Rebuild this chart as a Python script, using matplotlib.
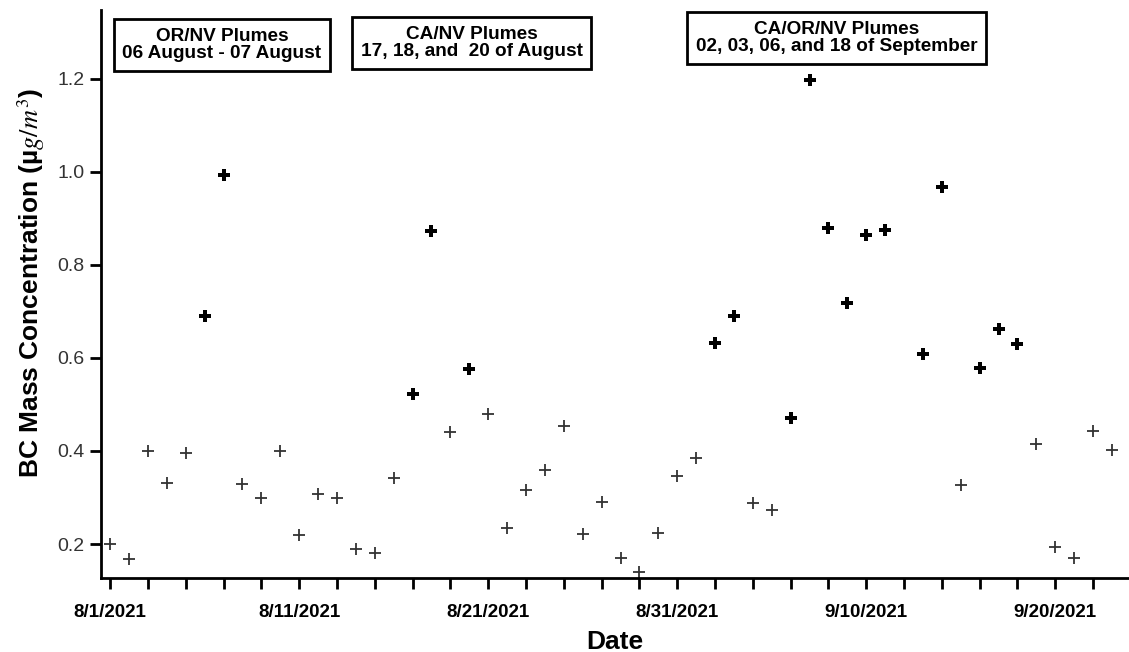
import datetime as dt

import matplotlib
matplotlib.use("Agg")
import matplotlib.dates as mdates
import numpy as np
from matplotlib import pyplot as plt
from matplotlib.ticker import FixedLocator, FuncFormatter

plt.rcParams["font.family"] = ["Liberation Sans", "DejaVu Sans"]
plt.rcParams["mathtext.fontset"] = "stix"

START = dt.date(2021, 8, 1)

# daily BC mass concentration, 8/1 .. 9/23 (9/12 missing)
bc_values = [
    0.200, 0.168, 0.400, 0.332, 0.395, 0.690, 0.993, 0.329, 0.298, 0.399,
    0.220, 0.307, 0.298, 0.190, 0.180, 0.342, 0.522, 0.873, 0.440, 0.576,
    0.480, 0.234, 0.316, 0.360, 0.453, 0.221, 0.291, 0.171, 0.140, 0.224,
    0.347, 0.386, 0.632, 0.690, 0.289, 0.273, 0.470, 1.198, 0.879, 0.719,
    0.865, 0.876, np.nan, 0.609, 0.967, 0.327, 0.578, 0.662, 0.629, 0.415,
    0.193, 0.169, 0.443, 0.402,
]

plume_days = [
    "2021-08-06", "2021-08-07", "2021-08-17", "2021-08-18", "2021-08-20",
    "2021-09-02", "2021-09-03", "2021-09-06", "2021-09-07", "2021-09-08",
    "2021-09-09", "2021-09-10", "2021-09-11", "2021-09-13", "2021-09-14",
    "2021-09-16", "2021-09-17", "2021-09-18",
]

box_texts = [
    "OR/NV Plumes\n06 August - 07 August",
    "CA/NV Plumes\n17, 18, and  20 of August",
    "CA/OR/NV Plumes\n02, 03, 06, and 18 of September",
]
box_dates = [dt.datetime(2021, 8, 6, 22), dt.datetime(2021, 8, 20, 3), dt.datetime(2021, 9, 8, 10)]
box_y = [1.273, 1.277, 1.288]

y_ticks = [0.2, 0.4, 0.6, 0.8, 1.0, 1.2]


def main():
    dates = [START + dt.timedelta(days=i) for i in range(len(bc_values))]
    plume_set = {dt.date.fromisoformat(d) for d in plume_days}
    values = np.array(bc_values)
    is_plume = np.array([d in plume_set for d in dates])
    xs = mdates.date2num(dates)

    fig = plt.figure(figsize=(11.29, 6.52), dpi=100)
    ax = fig.add_axes([0.0895, 0.1135, 0.9105, 0.8712])

    ax.plot(xs[~is_plume], values[~is_plume], "+", color="#333333",
            markersize=9, markeredgewidth=1.3)
    ax.plot(xs[is_plume], values[is_plume], "P", color="black",
            markersize=9, markeredgewidth=0)

    x0 = mdates.date2num(START)
    ax.set_xlim(x0 - 0.48, x0 + 53.9)
    ax.set_ylim(0.127, 1.348)

    ax.xaxis.set_major_locator(FixedLocator(x0 + np.arange(0, 54, 10)))
    ax.xaxis.set_minor_locator(FixedLocator(x0 + np.arange(0, 56, 2)))

    def fmt_date(x, pos):
        d = mdates.num2date(x)
        return f"{d.month}/{d.day}/{d.year}"

    ax.xaxis.set_major_formatter(FuncFormatter(fmt_date))
    ax.set_yticks(y_ticks)
    ax.set_yticklabels([f"{v:.1f}" for v in y_ticks])

    for side in ("top", "right"):
        ax.spines[side].set_visible(False)
    for side in ("left", "bottom"):
        ax.spines[side].set_linewidth(2)

    ax.tick_params(axis="both", which="both", direction="out", length=8, width=2)
    ax.tick_params(axis="x", labelsize=13.5, pad=11)
    ax.tick_params(axis="y", labelsize=14, pad=4, labelcolor="#333333")
    for lbl in ax.get_xticklabels():
        lbl.set_fontweight("bold")

    ax.set_xlabel("Date", fontsize=19, fontweight="bold", labelpad=6)
    ax.set_ylabel(r"BC Mass Concentration (µ$g/m^3$)", fontsize=19,
                  fontweight="bold", labelpad=6)
    ax.yaxis.set_label_coords(-0.053, 0.52)

    for text, bx, by in zip(box_texts, box_dates, box_y):
        ax.text(mdates.date2num(bx), by, text, ha="center", va="center",
                multialignment="center", fontsize=13.7, fontweight="bold",
                linespacing=1.05,
                bbox=dict(boxstyle="square,pad=0.45", facecolor="white",
                          edgecolor="black", linewidth=2))

    fig.savefig("out.png", dpi=100)
    plt.close(fig)


if __name__ == "__main__":
    main()
